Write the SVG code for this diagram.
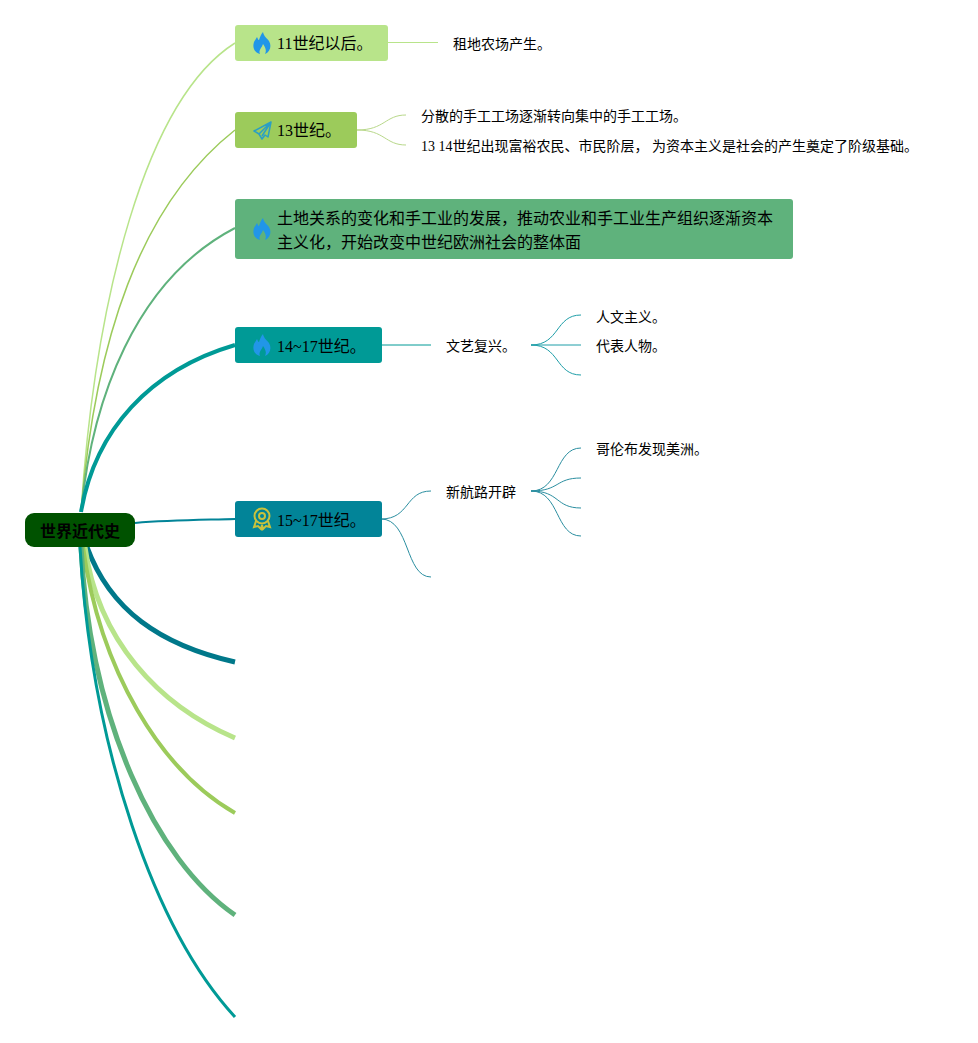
<svg xmlns="http://www.w3.org/2000/svg" width="978" height="1043" viewBox="0 0 978 1043">
<style>
text{font-family:"Liberation Serif","Noto Sans CJK SC",serif;fill:#000}
.m{font-size:16px}.s{font-size:14px}
.c{fill:none}
.flame{fill:#2196e8}
</style>
<defs>
<path id="flame" d="M1 -11C2 -6 5 -5 7 -2C10 3 8 9 3 11C5 7 3 4 1 1C0 5 -4 7 -2 11C-7 10 -10 5 -8 -1C-7 -3 -6 -4 -5 -6C-4 -4 -4 -3 -3 -3C-2 -6 -1 -9 1 -11Z"/>
</defs>
<rect width="978" height="1043" fill="#fff"/>
<g id="connectors" class="c">
<path d="M81 512C95 300 145 100 235 43" stroke="#b8e48a" stroke-width="1.500"/>
<path d="M81 512C95 340 140 205 235 130" stroke="#9ccb5b" stroke-width="1.500"/>
<path d="M81 512C92 400 135 280 235 228" stroke="#5fb27c" stroke-width="2"/>
<path d="M81 512C95 430 150 370 235 345" stroke="#009a96" stroke-width="4"/>
<path d="M135 523C170 520 200 520 235 519" stroke="#028498" stroke-width="2"/>
<path d="M87 547C110 610 160 645 235 662" stroke="#00788a" stroke-width="5"/>
<path d="M85 547C98 640 158 705 235 738" stroke="#b8e48a" stroke-width="5"/>
<path d="M83 547C100 670 160 770 235 813" stroke="#9ccb5b" stroke-width="4"/>
<path d="M81 547C90 720 155 860 235 915" stroke="#5fb27c" stroke-width="5"/>
<path d="M80 547C92 750 155 930 235 1017" stroke="#009a96" stroke-width="3"/>
<path d="M388 42.500H438" stroke="#b8e48a"/>
<path d="M357 130C385 130 385 115 406 115" stroke="#b8d88a"/>
<path d="M357 130C385 130 385 145 406 145" stroke="#b8d88a"/>
<path d="M381 345H431" stroke="#009a96"/>
<path d="M531 345C560 345 555 315 581 315" stroke="#1e9ea8"/>
<path d="M531 345H581" stroke="#1e9ea8"/>
<path d="M531 345C560 345 555 375 581 375" stroke="#1e9ea8"/>
<path d="M381 519C410 519 405 491 431 491" stroke="#2a8ea0"/>
<path d="M381 519C410 519 405 577 431 577" stroke="#2a8ea0"/>
<path d="M531 491C560 491 555 448 581 448" stroke="#2a8ea0"/>
<path d="M531 491C560 491 555 478 581 478" stroke="#2a8ea0"/>
<path d="M531 491C560 491 555 508 581 508" stroke="#2a8ea0"/>
<path d="M531 491C560 491 555 536 581 536" stroke="#2a8ea0"/>
</g>
<g id="root"><rect x="25" y="513" width="110" height="34" rx="9" fill="#005200"/><text x="80" y="537" font-size="16" font-weight="700" text-anchor="middle">世界近代史</text></g>
<g id="n11"><rect x="235" y="25" width="153" height="36" rx="3" fill="#b8e48a"/><use href="#flame" x="262" y="43" class="flame"/><text x="277" y="49" class="m">11世纪以后。</text></g>
<g id="n11a"><text x="453" y="49" class="s">租地农场产生。</text></g>
<g id="n13"><rect x="235" y="112" width="122" height="36" rx="3" fill="#9ccb5b"/>
<path d="M271 122L254 131L259 134L262 139L265 135L268 137ZM259 134L271 122L262 136" fill="none" stroke="#2b9fc4" stroke-width="1.500" stroke-linejoin="round"/>
<text x="277" y="136" class="m">13世纪。</text></g>
<g id="n13a"><text x="421" y="121" class="s">分散的手工工场逐渐转向集中的手工工场。</text></g>
<g id="n13b"><text x="421" y="151" class="s">13 14世纪出现富裕农民、市民阶层， 为资本主义是社会的产生奠定了阶级基础。</text></g>
<g id="nland"><rect x="235" y="199" width="558" height="60" rx="3" fill="#5fb27c"/><use href="#flame" x="262" y="229" class="flame"/>
<text x="277" y="224" class="m">土地关系的变化和手工业的发展，推动农业和手工业生产组织逐渐资本</text>
<text x="277" y="248" class="m">主义化，开始改变中世纪欧洲社会的整体面</text></g>
<g id="n14"><rect x="235" y="327" width="147" height="36" rx="3" fill="#009a96"/><use href="#flame" x="262" y="345" class="flame"/><text x="277" y="352" class="m">14~17世纪。</text></g>
<g id="nren"><text x="446" y="351" class="s">文艺复兴。</text></g>
<g id="nhum"><text x="596" y="322" class="s">人文主义。</text></g>
<g id="nrep"><text x="596" y="351" class="s">代表人物。</text></g>
<g id="n15"><rect x="235" y="501" width="147" height="36" rx="3" fill="#028498"/>
<g fill="none" stroke="#c9c23c" stroke-width="2"><circle cx="262" cy="516" r="7.500"/><circle cx="262" cy="516" r="3"/><path d="M256 521L254 527L258 526L261 529L262 525L263 529L266 526L270 527L268 521"/></g>
<text x="277" y="526" class="m">15~17世纪。</text></g>
<g id="nroute"><text x="446" y="497" class="s">新航路开辟</text></g>
<g id="ncol"><text x="596" y="454" class="s">哥伦布发现美洲。</text></g>
</svg>
